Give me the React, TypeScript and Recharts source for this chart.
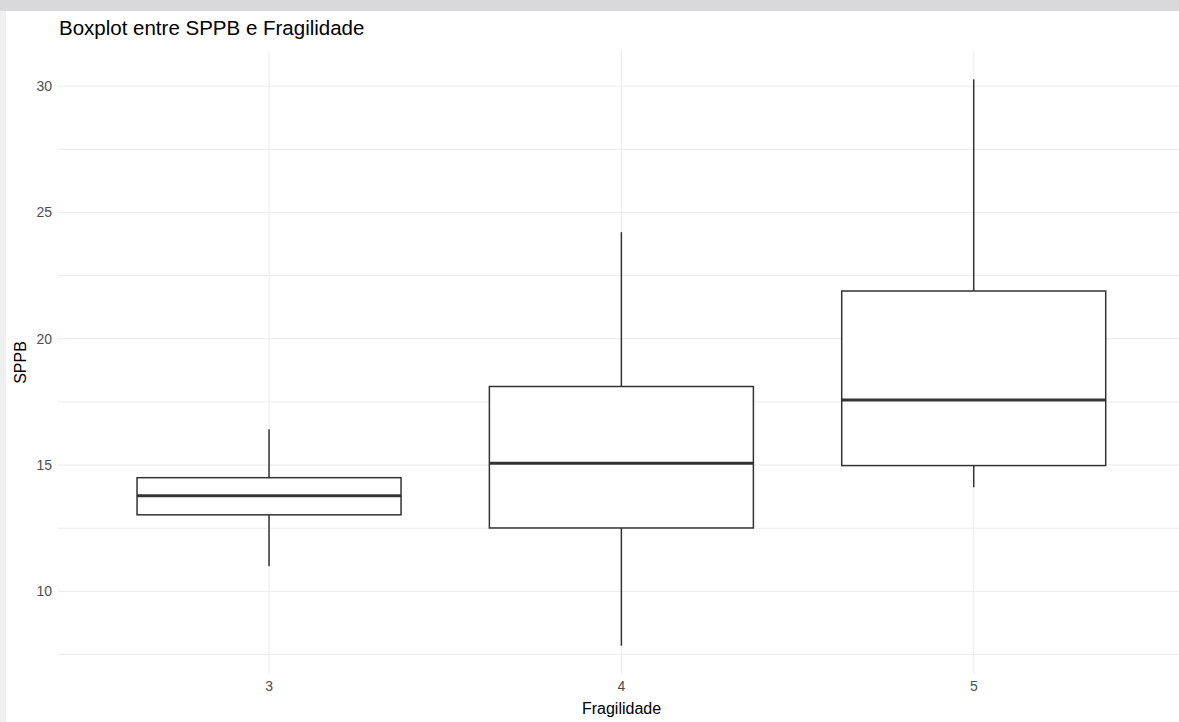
import React from 'react'
import { ComposedChart, Bar, XAxis, YAxis, CartesianGrid } from 'recharts'

const categories = ['3', '4', '5']
const whiskerLow = [10.99, 7.85, 14.12]
const q1 = [13.03, 12.51, 14.98]
const median = [13.79, 15.07, 17.58]
const q3 = [14.5, 18.11, 21.89]
const whiskerHigh = [16.42, 24.22, 30.27]

const majorTicks = [10, 15, 20, 25, 30]
const minorTicks = [7.5, 12.5, 17.5, 22.5, 27.5]

const data = categories.map((c, i) => ({
  fragilidade: c,
  range: [whiskerLow[i], whiskerHigh[i]],
  q1: q1[i],
  median: median[i],
  q3: q3[i],
}))

// ggplot-like 5% expansion around the data
const lo = Math.min(...whiskerLow)
const hi = Math.max(...whiskerHigh)
const pad = (hi - lo) * 0.05
const allTicks = [...majorTicks, ...minorTicks].sort((a, b) => a - b)

const INK = '#333333'

function BoxShape(props: any) {
  const { x, y, width, height, payload } = props
  const [min, max] = payload.range
  const top = Math.min(y, y + height)
  const h = Math.abs(height)
  const k = h / (max - min)
  const yOf = (v: number) => top + (max - v) * k
  const cx = x + width / 2
  return (
    <g>
      <line x1={cx} x2={cx} y1={yOf(max)} y2={yOf(payload.q3)} stroke={INK} strokeWidth={1.5} />
      <line x1={cx} x2={cx} y1={yOf(payload.q1)} y2={yOf(min)} stroke={INK} strokeWidth={1.5} />
      <rect
        x={x}
        y={yOf(payload.q3)}
        width={width}
        height={yOf(payload.q1) - yOf(payload.q3)}
        fill="#ffffff"
        stroke={INK}
        strokeWidth={1.5}
      />
      <line x1={x} x2={x + width} y1={yOf(payload.median)} y2={yOf(payload.median)} stroke={INK} strokeWidth={3} />
    </g>
  )
}

function YTitle({ viewBox }: any) {
  const cx = 20
  const cy = viewBox.y + viewBox.height / 2
  return (
    <text x={cx} y={cy} transform={`rotate(-90, ${cx}, ${cy})`} textAnchor="middle" fontSize={16} fill="#000">
      SPPB
    </text>
  )
}

export default function App() {
  return (
    <div
      style={{
        position: 'absolute',
        left: 0,
        top: 0,
        width: 1179,
        height: 722,
        overflow: 'hidden',
        background: '#efefef',
        fontFamily: '"Liberation Sans", Arial, sans-serif',
      }}
    >
      <div style={{ position: 'absolute', left: 0, top: 0, width: 1179, height: 11, background: '#d9d9db' }} />
      <div style={{ position: 'absolute', left: 6, top: 11, width: 1173, height: 711, background: '#ffffff' }}>
        <ComposedChart
          width={1179}
          height={711}
          data={data}
          margin={{ top: 40, right: 0, bottom: 0, left: 0 }}
          barCategoryGap="12.5%"
        >
          <CartesianGrid stroke="#ebebeb" strokeWidth={1} syncWithTicks />
          <XAxis
            dataKey="fragilidade"
            type="category"
            padding={{ left: 35, right: 35 }}
            tickLine={false}
            axisLine={false}
            tickMargin={1}
            height={48}
            tick={{ fill: '#4d4d4d', fontSize: 14 }}
            label={{ value: 'Fragilidade', position: 'insideBottom', offset: 8, fontSize: 16, fill: '#000' }}
          />
          <YAxis
            type="number"
            domain={[lo - pad, hi + pad]}
            ticks={allTicks}
            interval={0}
            tickFormatter={(v: number) => (majorTicks.includes(v) ? String(v) : '')}
            tickLine={false}
            axisLine={false}
            tickMargin={0}
            width={52}
            tick={{ fill: '#4d4d4d', fontSize: 14 }}
            label={<YTitle />}
          />
          <Bar dataKey="range" shape={<BoxShape />} isAnimationActive={false} />
        </ComposedChart>
        <div
          style={{
            position: 'absolute',
            left: 53,
            top: 7,
            fontSize: 20.5,
            lineHeight: '20px',
            color: '#000',
            whiteSpace: 'nowrap',
          }}
        >
          Boxplot entre SPPB e Fragilidade
        </div>
      </div>
    </div>
  )
}
